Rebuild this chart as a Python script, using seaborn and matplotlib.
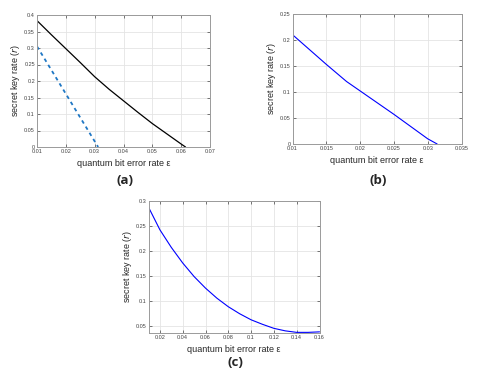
import matplotlib
matplotlib.use("Agg")
import matplotlib.pyplot as plt
import seaborn as sns

# panel (a): two curves
qber_a = [0.010, 0.015, 0.020, 0.025, 0.030, 0.035, 0.040, 0.045, 0.050, 0.055, 0.060, 0.0615]
rate_a_solid = [0.383, 0.340, 0.298, 0.256, 0.213, 0.175, 0.140, 0.105, 0.071, 0.040, 0.009, 0.0]
qber_a_dash = [0.010, 0.0312]
rate_a_dash = [0.305, 0.0]

# panel (b)
qber_b = [0.010, 0.015, 0.018, 0.020, 0.025, 0.030, 0.0314]
rate_b = [0.210, 0.153, 0.120, 0.102, 0.057, 0.010, 0.0]

# panel (c)
qber_c = [0.010, 0.020, 0.030, 0.040, 0.050, 0.060, 0.070, 0.080, 0.090, 0.100,
          0.110, 0.120, 0.130, 0.140, 0.150, 0.160]
rate_c = [0.287, 0.242, 0.207, 0.176, 0.149, 0.126, 0.106, 0.089, 0.075, 0.063,
          0.054, 0.046, 0.041, 0.038, 0.038, 0.039]

sns.set_style("whitegrid")
plt.rcParams['font.family'] = ['Liberation Sans', 'DejaVu Sans']

fig = plt.figure(figsize=(5, 3.75), dpi=100)
ax_a = fig.add_axes([0.074, 0.608, 0.346, 0.352])
ax_b = fig.add_axes([0.585, 0.616, 0.338, 0.347])
ax_c = fig.add_axes([0.297, 0.111, 0.342, 0.354])

sns.lineplot(x=qber_a, y=rate_a_solid, ax=ax_a, color="black", linewidth=0.9)
sns.lineplot(x=qber_a_dash, y=rate_a_dash, ax=ax_a, color="#1f77c4", linewidth=1.3, linestyle=(0, (2, 2)))
sns.lineplot(x=qber_b, y=rate_b, ax=ax_b, color="#0000ff", linewidth=0.8)
sns.lineplot(x=qber_c, y=rate_c, ax=ax_c, color="#0000ff", linewidth=0.8)


def style(ax, xlim, ylim, xticks, yticks, xtl, ytl):
    ax.set_xlim(*xlim)
    ax.set_ylim(*ylim)
    ax.set_xticks(xticks)
    ax.set_yticks(yticks)
    ax.set_xticklabels(xtl)
    ax.set_yticklabels(ytl)
    ax.grid(True, color="#e4e4e4", linewidth=0.6)
    ax.tick_params(direction="in", length=2, width=0.5, labelsize=4, pad=1.5,
                   colors="#444444", top=True, right=True, bottom=True, left=True)
    for s in ax.spines.values():
        s.set_color("#9a9a9a")
        s.set_linewidth(0.7)
    ax.set_xlabel("quantum bit error rate \u03b5", fontsize=6.5, labelpad=3.5)
    ax.set_ylabel("secret key rate ($\\mathit{r}$)", fontsize=6.5, labelpad=1.5)


style(ax_a, (0.01, 0.07), (0, 0.4),
      [0.01, 0.02, 0.03, 0.04, 0.05, 0.06, 0.07],
      [0, 0.05, 0.1, 0.15, 0.2, 0.25, 0.3, 0.35, 0.4],
      ["0.01", "0.02", "0.03", "0.04", "0.05", "0.06", "0.07"],
      ["0", "0.05", "0.1", "0.15", "0.2", "0.25", "0.3", "0.35", "0.4"])
style(ax_b, (0.01, 0.035), (0, 0.25),
      [0.01, 0.015, 0.02, 0.025, 0.03, 0.035],
      [0, 0.05, 0.1, 0.15, 0.2, 0.25],
      ["0.01", "0.015", "0.02", "0.025", "0.03", "0.035"],
      ["0", "0.05", "0.1", "0.15", "0.2", "0.25"])
style(ax_c, (0.01, 0.16), (0.036, 0.3),
      [0.02, 0.04, 0.06, 0.08, 0.1, 0.12, 0.14, 0.16],
      [0.05, 0.1, 0.15, 0.2, 0.25, 0.3],
      ["0.02", "0.04", "0.06", "0.08", "0.1", "0.12", "0.14", "0.16"],
      ["0.05", "0.1", "0.15", "0.2", "0.25", "0.3"])

fig.text(125 / 500, 1 - 180 / 375, "(a)", ha="center", va="center", fontsize=9.5, fontweight="bold",
         family="Open Sans")
fig.text(378 / 500, 1 - 180 / 375, "(b)", ha="center", va="center", fontsize=9.5, fontweight="bold",
         family="Open Sans")
fig.text(235 / 500, 1 - 362 / 375, "(c)", ha="center", va="center", fontsize=9.5, fontweight="bold",
         family="Open Sans")

fig.savefig("out.png", dpi=100)
